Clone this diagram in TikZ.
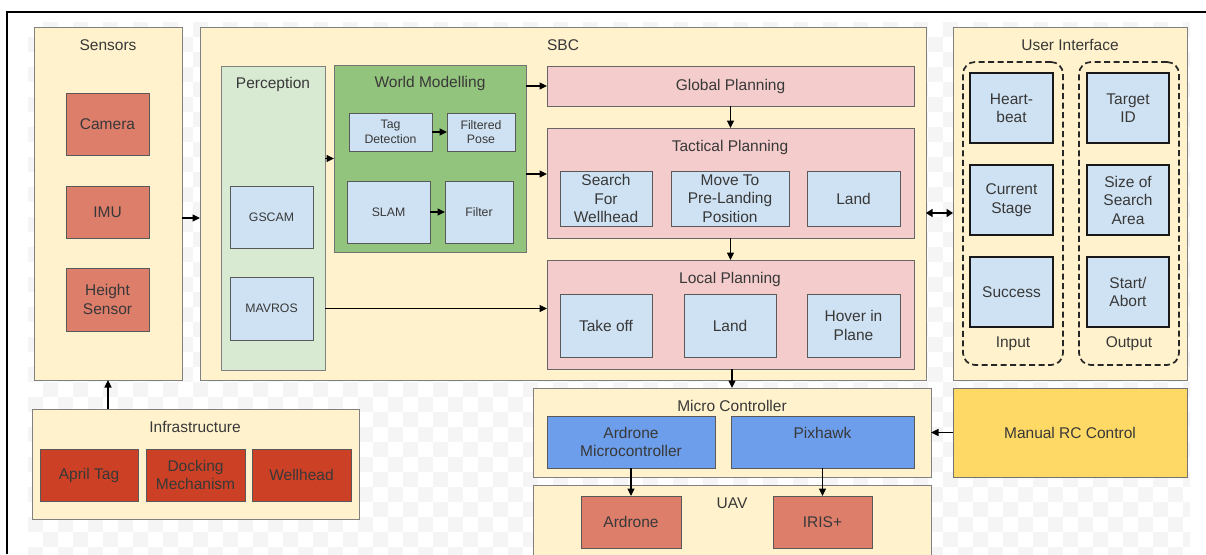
\documentclass[tikz,border=0pt]{standalone}
\usepackage{fontspec}
\setmainfont{Liberation Sans}
\usetikzlibrary{arrows.meta}

\definecolor{cream}{HTML}{FFF2CC}
\definecolor{edge}{HTML}{808080}
\definecolor{txt}{HTML}{383838}
\definecolor{sensred}{HTML}{DD7E6B}
\definecolor{infrared}{HTML}{CC4125}
\definecolor{percgreen}{HTML}{D9EAD3}
\definecolor{worldgreen}{HTML}{93C47D}
\definecolor{planpink}{HTML}{F4CCCC}
\definecolor{lightblue}{HTML}{CFE2F3}
\definecolor{mcblue}{HTML}{6D9EEB}
\definecolor{rcyellow}{HTML}{FFD966}
\definecolor{checker}{HTML}{F5F5F5}

\tikzset{
  base/.style={inner sep=0pt, outer sep=0pt, align=center, text=txt,
               font=\fontsize{15.5}{18.5}\selectfont},
  small/.style={font=\fontsize{12.3}{14.7}\selectfont},
  ttl/.style={base},
  cont/.style={base, fill=cream, draw=edge, line width=1pt},
  sensbox/.style={base, fill=sensred, draw=black!65, line width=1pt},
  infrabox/.style={base, fill=infrared, draw=black!65, line width=1pt},
  percbox/.style={base, fill=percgreen, draw=edge, line width=1pt},
  worldbox/.style={base, fill=worldgreen, draw=black!55, line width=1pt},
  planbox/.style={base, fill=planpink, draw=black!60, line width=1pt},
  leaf/.style={base, fill=lightblue, draw=black!65, line width=1pt},
  uibox/.style={base, fill=lightblue, draw=black!90, line width=1.6pt},
  mcbox/.style={base, fill=mcblue, draw=black!65, line width=1pt},
  rcbox/.style={base, fill=rcyellow, draw=black!55, line width=1pt},
  group/.style={draw=black!85, line width=1.7pt, dash pattern=on 6pt off 3.5pt,
                rounded corners=12pt, inner sep=0pt, outer sep=0pt},
  arr/.style={draw=black, line width=1.2pt, -{Triangle[length=7.5pt,width=7pt]}},
  biarr/.style={draw=black, line width=2pt,
                {Triangle[length=6.5pt,width=8pt]}-{Triangle[length=6.5pt,width=8pt]}},
}

% box from corner (x1,y1) to corner (x2,y2), y counted downwards
\newcommand\blk[7]{%
  \node[#2, minimum width={(#5-#3)*1pt}, minimum height={(#6-#4)*1pt}]
    (#1) at ({(#3+#5)/2},{(#4+#6)/2}) {#7};}

\begin{document}
\begin{tikzpicture}[x=1pt, y=-1pt]
  \useasboundingbox (0,0) rectangle (1206,554);

  % transparent-canvas checkerboard
  \begin{scope}
    \clip (28,22) rectangle (1190,554);
    \foreach \i in {0,...,77}{
      \foreach \j in {0,...,35}{
        \pgfmathtruncatemacro\s{\i+\j}
        \ifodd\s \fill[checker] ({28+15*\i},{22+15*\j}) rectangle +(15,15);\fi
      }
    }
  \end{scope}

  % page frame
  \draw[line width=2pt] (7,554) -- (7,12) -- (1206,12);

  % ---------- Sensors ----------
  \blk{sensors}{cont}{34}{27}{182}{380}{}
  \node[ttl] (sensorsT) at (108,45) {Sensors};
  \blk{camera}{sensbox}{66}{93}{149}{155}{Camera}
  \blk{imu}{sensbox}{66}{186}{149}{238}{IMU}
  \blk{height}{sensbox}{66}{268}{149}{331}{Height\\Sensor}

  % ---------- SBC ----------
  \blk{sbc}{cont}{200}{27}{926}{380}{}
  \node[ttl] (sbcT) at (563,45) {SBC};

  \blk{perc}{percbox}{221}{66}{325}{370}{}
  \node[ttl] (percT) at (273,84) {Perception};
  \blk{gscam}{leaf,small}{230}{186}{313}{248}{GSCAM}
  \blk{mavros}{leaf,small}{230}{277}{313}{340}{MAVROS}

  \blk{world}{worldbox}{334}{65}{526}{252}{}
  \node[ttl] (worldT) at (430,83.5) {World Modelling};
  \blk{tagdet}{leaf,small}{349}{113}{432}{151}{Tag\\Detection}
  \blk{filtpose}{leaf,small}{447}{113}{515}{151}{Filtered\\Pose}
  \blk{slam}{leaf,small}{347}{181}{430}{243}{SLAM}
  \blk{filter}{leaf,small}{445}{181}{513}{243}{Filter}

  \blk{global}{planbox}{547}{66}{914}{106}{Global Planning}

  \blk{tactical}{planbox}{547}{128}{914}{238}{}
  \node[ttl] (tacticalT) at (730,147) {Tactical Planning};
  \blk{search}{leaf}{560}{171}{652}{226}{Search\\For\\Wellhead}
  \blk{moveto}{leaf}{671}{171}{789}{226}{Move To\\Pre-Landing\\Position}
  \blk{tland}{leaf}{807}{171}{900}{226}{Land}

  \blk{local}{planbox}{547}{260}{914}{369}{}
  \node[ttl] (localT) at (730,279) {Local Planning};
  \blk{takeoff}{leaf}{560}{294}{652}{357}{Take off}
  \blk{lland}{leaf}{684}{294}{776}{357}{Land}
  \blk{hover}{leaf}{807}{294}{900}{357}{Hover in\\Plane}

  % ---------- User Interface ----------
  \blk{ui}{cont}{953}{27}{1187}{380}{}
  \node[ttl] (uiT) at (1070,45) {User Interface};
  \blk{input}{group}{963}{62}{1063}{365}{}
  \blk{output}{group}{1079}{62}{1179}{365}{}
  \blk{heart}{uibox}{970}{73}{1053}{143}{Heart-\\beat}
  \blk{stage}{uibox}{970}{165}{1053}{235}{Current\\Stage}
  \blk{success}{uibox}{970}{257}{1053}{327}{Success}
  \blk{target}{uibox}{1087}{73}{1169}{143}{Target\\ID}
  \blk{size}{uibox}{1087}{165}{1169}{235}{Size of\\Search\\Area}
  \blk{start}{uibox}{1087}{257}{1169}{327}{Start/\\Abort}
  \node[ttl] (inputT) at (1013,344) {Input};
  \node[ttl] (outputT) at (1129,344) {Output};

  % ---------- Infrastructure ----------
  \blk{infra}{cont}{32}{409}{359}{519}{}
  \node[ttl] (infraT) at (195,427) {Infrastructure};
  \blk{april}{infrabox}{40}{449}{138}{501}{April Tag}
  \blk{docking}{infrabox}{146}{449}{245}{501}{Docking\\Mechanism}
  \blk{wellhead}{infrabox}{252}{449}{351}{501}{Wellhead}

  % ---------- Micro Controller ----------
  \blk{micro}{cont}{533}{388}{931}{477}{}
  \node[ttl] (microT) at (732,406) {Micro Controller};
  \blk{ardmc}{mcbox}{547}{416}{715}{468}{Ardrone\\Microcontroller}
  \blk{pixhawk}{mcbox}{731}{416}{914}{468}{Pixhawk\\\phantom{M}}

  % ---------- UAV ----------
  \blk{uav}{cont}{533}{485}{931}{575}{}
  \node[ttl] (uavT) at (732,503) {UAV};
  \blk{ardrone}{sensbox}{581}{496}{681}{548}{Ardrone}
  \blk{iris}{sensbox}{773}{496}{872}{548}{IRIS+}

  % ---------- Manual RC ----------
  \blk{rc}{rcbox}{953}{388}{1187}{477}{Manual RC Control}

  % ---------- connectors ----------
  \coordinate (sbcIn) at ([yshift=-14.5pt]sbc.west);
  \coordinate (tacIn) at ([yshift=9pt]tactical.west);
  \coordinate (uiIn) at ([yshift=-9.5pt]ui.west);
  \draw[arr] (sensors.east |- sbcIn) -- (sbcIn);
  \draw[arr] (infra.north -| sensors.south) -- (sensors.south);
  \draw[arr] (perc.east |- world.west) -- (world.west);
  \draw[arr] (tagdet.east) -- (filtpose.west);
  \draw[arr] (slam.east) -- (filter.west);
  \draw[arr] (world.east |- global.west) -- (global.west);
  \draw[arr] (world.east |- tacIn) -- (tacIn);
  \draw[arr] (global.south) -- (tactical.north);
  \draw[arr] (tactical.south) -- (local.north);
  \draw[arr] (perc.east |- mavros.east) -- (local.west |- mavros.east);
  \draw[arr] (local.south -| micro.north) -- (micro.north);
  \draw[arr] (ardmc.south) -- (ardrone.north);
  \draw[arr] (pixhawk.south) -- (iris.north);
  \draw[arr] (rc.west) -- (micro.east);
  \draw[biarr] (sbc.east |- uiIn) -- (uiIn);
\end{tikzpicture}
\end{document}
